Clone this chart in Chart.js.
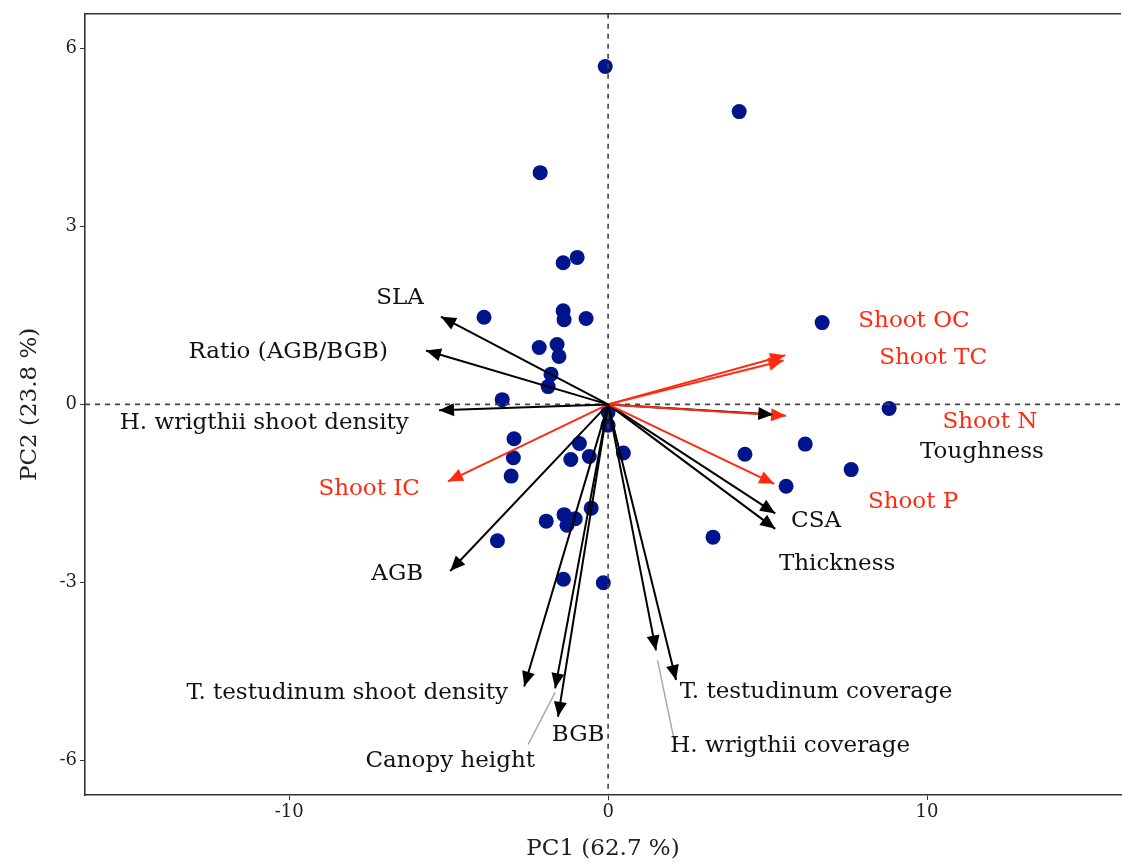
<!DOCTYPE html>
<html>
<head>
<meta charset="utf-8">
<title>PCA biplot</title>
<script src="https://cdn.jsdelivr.net/npm/chart.js@4.4.1/dist/chart.umd.min.js"></script>
<style>
  html, body { margin: 0; padding: 0; background: #fff; }
  #wrap { width: 1122px; height: 864px; }
</style>
</head>
<body>
<div id="wrap"><canvas id="biplot" width="1122" height="864"></canvas></div>
<script>
// site scores
const scorePC1 = [-0.09, 4.11, -2.13, -0.97, -1.41, -3.89, -1.41, -1.38, -0.69, -2.16,
                  -1.60, -1.54, -1.79, -1.88, -3.32, 6.71, 8.81, 6.18, 4.29, 7.62,
                  5.58, 3.29, 0.00, 0.00, -2.95, -0.90, -2.97, -1.17, -0.59, 0.48,
                  -3.04, -0.53, -1.38, -1.94, -1.03, -1.29, -3.47, -1.40, -0.15];
const scorePC2 = [5.70, 4.94, 3.91, 2.48, 2.39, 1.47, 1.58, 1.43, 1.45, 0.96,
                  1.01, 0.81, 0.51, 0.30, 0.08, 1.38, -0.07, -0.67, -0.84, -1.10,
                  -1.38, -2.24, -0.13, -0.35, -0.58, -0.66, -0.90, -0.93, -0.88, -0.82,
                  -1.21, -1.75, -1.86, -1.97, -1.93, -2.04, -2.30, -2.95, -3.01];

// variable loadings (arrow tips)
const varNames = ['SLA', 'Ratio (AGB/BGB)', 'H. wrigthii shoot density', 'Shoot IC', 'AGB',
                  'T. testudinum shoot density', 'Canopy height', 'BGB',
                  'H. wrigthii coverage', 'T. testudinum coverage',
                  'Shoot OC', 'Shoot TC', 'Shoot N', 'Toughness', 'Shoot P', 'CSA', 'Thickness'];
const loadPC1 = [-5.24, -5.71, -5.30, -5.02, -4.95, -2.63, -1.66, -1.57, 1.50, 2.13,
                 5.55, 5.50, 5.58, 5.18, 5.21, 5.24, 5.24];
const loadPC2 = [1.48, 0.91, -0.10, -1.30, -2.81, -4.76, -4.79, -5.27, -4.15, -4.65,
                 0.83, 0.74, -0.19, -0.17, -1.34, -1.84, -2.10];
const isNutrient = [false, false, false, true, false, false, false, false, false, false,
                    true, true, true, false, true, false, false];

// where each variable name sits (centre of text)
const labelX = [-6.52, -10.03, -10.78, -7.49, -6.61, -8.18, -4.95, -0.94, 5.71, 6.52,
                9.59, 10.19, 11.97, 11.72, 9.56, 6.52, 7.18];
const labelY = [1.79, 0.88, -0.32, -1.42, -2.87, -4.87, -6.02, -5.58, -5.76, -4.85,
                1.40, 0.78, -0.30, -0.81, -1.65, -1.97, -2.70];

// connector segments for labels pushed away from their arrows
const leaders = [
  { name: 'Canopy height', from: [-2.51, -5.74], to: [-1.66, -4.86] },
  { name: 'H. wrigthii coverage', from: [2.07, -5.66], to: [1.55, -4.32] }
];

const xTicks = [-10, 0, 10];
const yTicks = [-6, -3, 0, 3, 6];

const RED = '#ff2a10';
const NAVY = '#00158c';
const SERIF = '"DejaVu Serif", "Liberation Serif", serif';

const datasets = [{
  type: 'scatter',
  label: 'sites',
  data: scorePC1.map((x, i) => ({ x: x, y: scorePC2[i] })),
  pointRadius: 7.5,
  pointBackgroundColor: NAVY,
  pointBorderWidth: 0,
  order: 2
}];
varNames.forEach((name, i) => {
  datasets.push({
    type: 'line',
    label: name,
    data: [{ x: 0, y: 0 }, { x: loadPC1[i], y: loadPC2[i] }],
    borderColor: isNutrient[i] ? RED : '#000',
    borderWidth: 2,
    pointRadius: 0,
    fill: false,
    order: 1
  });
});

// dashed zero lines, drawn right after the points
const zeroLines = {
  id: 'zeroLines',
  afterDatasetDraw(chart, args) {
    if (args.index !== 0) return;
    const { ctx, chartArea: a, scales: { x, y } } = chart;
    const x0 = x.getPixelForValue(0), y0 = y.getPixelForValue(0);
    ctx.save();
    ctx.strokeStyle = '#444';
    ctx.lineWidth = 1.6;
    ctx.setLineDash([5, 5]);
    ctx.beginPath();
    ctx.moveTo(a.left, y0); ctx.lineTo(a.right, y0);
    ctx.moveTo(x0, a.top); ctx.lineTo(x0, a.bottom);
    ctx.stroke();
    ctx.restore();
  }
};

// arrowheads, labels, leaders and the top frame line
const biplotExtras = {
  id: 'biplotExtras',
  afterDatasetsDraw(chart) {
    const { ctx, chartArea: a, scales: { x, y } } = chart;
    ctx.save();
    const x0 = x.getPixelForValue(0), y0 = y.getPixelForValue(0);
    varNames.forEach((name, i) => {
      const tx = x.getPixelForValue(loadPC1[i]);
      const ty = y.getPixelForValue(loadPC2[i]);
      const ang = Math.atan2(ty - y0, tx - x0);
      const len = 15, half = 6.5;
      ctx.fillStyle = isNutrient[i] ? RED : '#000';
      ctx.beginPath();
      ctx.moveTo(tx, ty);
      ctx.lineTo(tx - len * Math.cos(ang) + half * Math.sin(ang), ty - len * Math.sin(ang) - half * Math.cos(ang));
      ctx.lineTo(tx - len * Math.cos(ang) - half * Math.sin(ang), ty - len * Math.sin(ang) + half * Math.cos(ang));
      ctx.closePath();
      ctx.fill();
    });

    ctx.strokeStyle = '#aaa';
    ctx.lineWidth = 1.5;
    leaders.forEach(l => {
      ctx.beginPath();
      ctx.moveTo(x.getPixelForValue(l.from[0]), y.getPixelForValue(l.from[1]));
      ctx.lineTo(x.getPixelForValue(l.to[0]), y.getPixelForValue(l.to[1]));
      ctx.stroke();
    });

    ctx.font = '23px ' + SERIF;
    ctx.textAlign = 'center';
    ctx.textBaseline = 'middle';
    varNames.forEach((name, i) => {
      ctx.fillStyle = isNutrient[i] ? RED : '#111';
      ctx.fillText(name, x.getPixelForValue(labelX[i]), y.getPixelForValue(labelY[i]));
    });

    ctx.strokeStyle = '#333';
    ctx.lineWidth = 1.6;
    ctx.beginPath();
    ctx.moveTo(a.left, a.top); ctx.lineTo(a.right, a.top);
    ctx.stroke();
    ctx.restore();
  }
};

new Chart(document.getElementById('biplot'), {
  data: { datasets: datasets },
  options: {
    responsive: false,
    animation: false,
    layout: { autoPadding: false, padding: { top: 13, right: 1, left: 0, bottom: 0 } },
    plugins: { legend: { display: false }, tooltip: { enabled: false } },
    scales: {
      x: {
        type: 'linear',
        min: -16.40,
        max: 16.08,
        afterBuildTicks: s => { s.ticks = xTicks.map(v => ({ value: v })); },
        afterFit: s => { s.height = 69; s.paddingLeft = 0; s.paddingRight = 0; },
        grid: { drawOnChartArea: false, tickLength: 5, color: '#333', lineWidth: 1 },
        border: { color: '#333', width: 1.6 },
        ticks: { color: '#222', font: { family: SERIF, size: 18 }, padding: 2 },
        title: {
          display: true,
          text: 'PC1 (62.7 %)',
          color: '#222',
          font: { family: SERIF, size: 23 },
          padding: { top: 0, bottom: 1 }
        }
      },
      y: {
        type: 'linear',
        min: -6.59,
        max: 6.59,
        afterBuildTicks: s => { s.ticks = yTicks.map(v => ({ value: v })); },
        afterFit: s => { s.width = 85; },
        grid: { drawOnChartArea: false, tickLength: 5, color: '#333', lineWidth: 1 },
        border: { color: '#333', width: 1.6 },
        ticks: { color: '#222', font: { family: SERIF, size: 18 }, padding: 3 },
        title: {
          display: true,
          text: 'PC2 (23.8 %)',
          color: '#222',
          font: { family: SERIF, size: 23 },
          padding: { top: 16, bottom: 0 }
        }
      }
    }
  },
  plugins: [zeroLines, biplotExtras]
});
</script>
</body>
</html>
